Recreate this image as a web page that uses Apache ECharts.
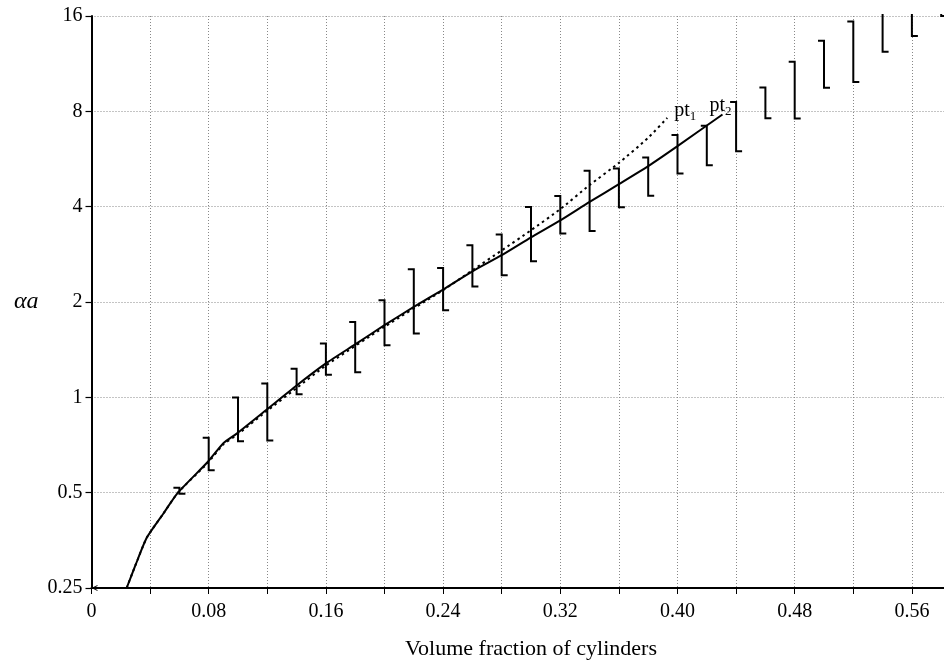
<!DOCTYPE html>
<html>
<head>
<meta charset="utf-8">
<script src="https://cdn.jsdelivr.net/npm/echarts@6/dist/echarts.min.js"></script>
<style>
html,body{margin:0;padding:0;background:#fff;}
#chart{width:944px;height:662px;}
</style>
</head>
<body>
<div id="chart"></div>
<script>
// Solid theory curve (ends at pt2)
const solidCurve = [
  [0.024, 0.25], [0.030, 0.295], [0.0377, 0.36], [0.049, 0.429], [0.059, 0.5],
  [0.0793, 0.625], [0.09, 0.716], [0.0991, 0.768], [0.119, 0.91], [0.14, 1.09],
  [0.16, 1.28], [0.18, 1.47], [0.20, 1.69], [0.22, 1.93], [0.24, 2.19],
  [0.26, 2.5], [0.28, 2.81], [0.30, 3.2], [0.32, 3.62], [0.34, 4.14],
  [0.36, 4.71], [0.38, 5.37], [0.40, 6.21], [0.4307, 7.82]
];
// Dotted curve (ends at pt1)
const dottedCurve = [
  [0.024, 0.25], [0.030, 0.295], [0.0377, 0.36], [0.049, 0.429], [0.059, 0.5],
  [0.0793, 0.62], [0.09, 0.71], [0.0991, 0.76], [0.119, 0.9], [0.14, 1.07],
  [0.16, 1.26], [0.20, 1.67], [0.24, 2.18], [0.26, 2.52], [0.28, 2.91],
  [0.30, 3.37], [0.32, 3.93], [0.34, 4.68], [0.36, 5.5], [0.38, 6.6],
  [0.393, 7.63]
];
// Error brackets: [x, low, high]
const brackets = [
  [0.06, 0.496, 0.518], [0.08, 0.588, 0.746], [0.10, 0.726, 0.998],
  [0.12, 0.731, 1.105], [0.14, 1.022, 1.232], [0.16, 1.179, 1.478],
  [0.18, 1.199, 1.73], [0.20, 1.46, 2.025], [0.22, 1.59, 2.54],
  [0.24, 1.884, 2.56], [0.26, 2.24, 3.02], [0.28, 2.43, 3.27],
  [0.30, 2.69, 3.99], [0.32, 3.29, 4.32], [0.34, 3.35, 5.19],
  [0.36, 3.98, 5.28], [0.38, 4.33, 5.72], [0.40, 5.09, 6.73],
  [0.42, 5.41, 7.2], [0.44, 5.99, 8.56], [0.46, 7.61, 9.51],
  [0.48, 7.6, 11.47], [0.50, 9.49, 13.37], [0.52, 9.9, 15.36],
  [0.54, 12.34, 18.5], [0.56, 13.83, 21], [0.58, 16.0, 24]
];
const xTickLabels = ['0', '0.08', '0.16', '0.24', '0.32', '0.40', '0.48', '0.56'];
const yTickLabels = ['0.25', '0.5', '1', '2', '4', '8', '16'];

const serif = '"Liberation Serif", "DejaVu Serif", serif';
const chart = echarts.init(document.getElementById('chart'));
const chevron = 'path://M0,10 L5,0 L10,10 L8.4,10 L5,3.2 L1.6,10 Z';

chart.setOption({
  animation: false,
  backgroundColor: '#fff',
  grid: { left: 91.5, top: 16, bottom: 74, right: -26.5, outerBoundsMode: 'none', containLabel: false },
  xAxis: {
    type: 'value', min: 0, max: 0.6, interval: 0.04,
    name: 'Volume fraction of cylinders', nameLocation: 'middle', nameGap: 50,
    nameTextStyle: { fontFamily: serif, fontSize: 22, color: '#000' },
    axisLine: { show: true, lineStyle: { color: '#000', width: 2 }, symbol: [chevron, 'none'], symbolSize: [10, 6], symbolOffset: [3, 0] },
    axisTick: { show: true, length: 6, lineStyle: { color: '#000', width: 1 } },
    axisLabel: {
      color: '#000', fontFamily: serif, fontSize: 20, margin: 14,
      showMaxLabel: false,
      formatter: function (v) {
        const k = Math.round(v / 0.08);
        if (Math.abs(v - k * 0.08) < 1e-6 && k < xTickLabels.length) return xTickLabels[k];
        return '';
      }
    },
    splitLine: { show: true, lineStyle: { color: '#888', type: [1, 2], width: 1 } }
  },
  yAxis: {
    type: 'log', logBase: 2, min: 0.25, max: 16,
    name: 'αa', nameLocation: 'middle', nameGap: 53, nameRotate: 0,
    nameTextStyle: { fontFamily: serif, fontSize: 24, fontStyle: 'italic', color: '#000' },
    axisLine: { show: true, lineStyle: { color: '#000', width: 2 } },
    axisTick: { show: true, length: 6, lineStyle: { color: '#000', width: 1.2 } },
    axisLabel: {
      color: '#000', fontFamily: serif, fontSize: 20, margin: 9,
      formatter: function (v) {
        const k = Math.round(Math.log2(v)) + 2;
        return yTickLabels[k] !== undefined ? yTickLabels[k] : '';
      }
    },
    splitLine: { show: true, lineStyle: { color: '#888', type: [1, 2], width: 1 } }
  },
  series: [
    {
      type: 'line', data: dottedCurve, showSymbol: false, symbol: 'none', smooth: 0.2,
      lineStyle: { color: '#000', width: 2, type: [2.5, 3.5] },
      endLabel: {
        show: true, formatter: '{b|pt}{s|1}', offset: [3, -7], distance: 4,
        rich: {
          b: { fontFamily: serif, fontSize: 20, color: '#000' },
          s: { fontFamily: serif, fontSize: 13, color: '#000', padding: [12, 0, 0, 0] }
        }
      },
      z: 3
    },
    {
      type: 'line', data: solidCurve, showSymbol: false, symbol: 'none', smooth: 0.2,
      lineStyle: { color: '#000', width: 2 },
      endLabel: {
        show: true, formatter: '{b|pt}{s|2}', offset: [-13, -9], distance: 0,
        rich: {
          b: { fontFamily: serif, fontSize: 20, color: '#000' },
          s: { fontFamily: serif, fontSize: 13, color: '#000', padding: [12, 0, 0, 0] }
        }
      },
      z: 3
    },
    {
      type: 'custom', data: brackets, clip: false, z: 4,
      encode: { x: 0, y: [1, 2] },
      renderItem: function (params, api) {
        const x = api.value(0), lo = api.value(1), hi = api.value(2);
        const pLo = api.coord([x, lo]);
        const pHi = api.coord([x, hi]);
        const topLimit = params.coordSys.y - 2;
        const s = 6;
        const yTop = Math.max(pHi[1], topLimit);
        const pts = [];
        if (pHi[1] >= topLimit) pts.push([pHi[0] - s, yTop]);
        pts.push([pHi[0], yTop], [pLo[0], pLo[1]], [pLo[0] + s, pLo[1]]);
        return {
          type: 'polyline',
          shape: { points: pts },
          style: { stroke: '#000', lineWidth: 2, fill: null }
        };
      }
    }
  ]
});
</script>
</body>
</html>
